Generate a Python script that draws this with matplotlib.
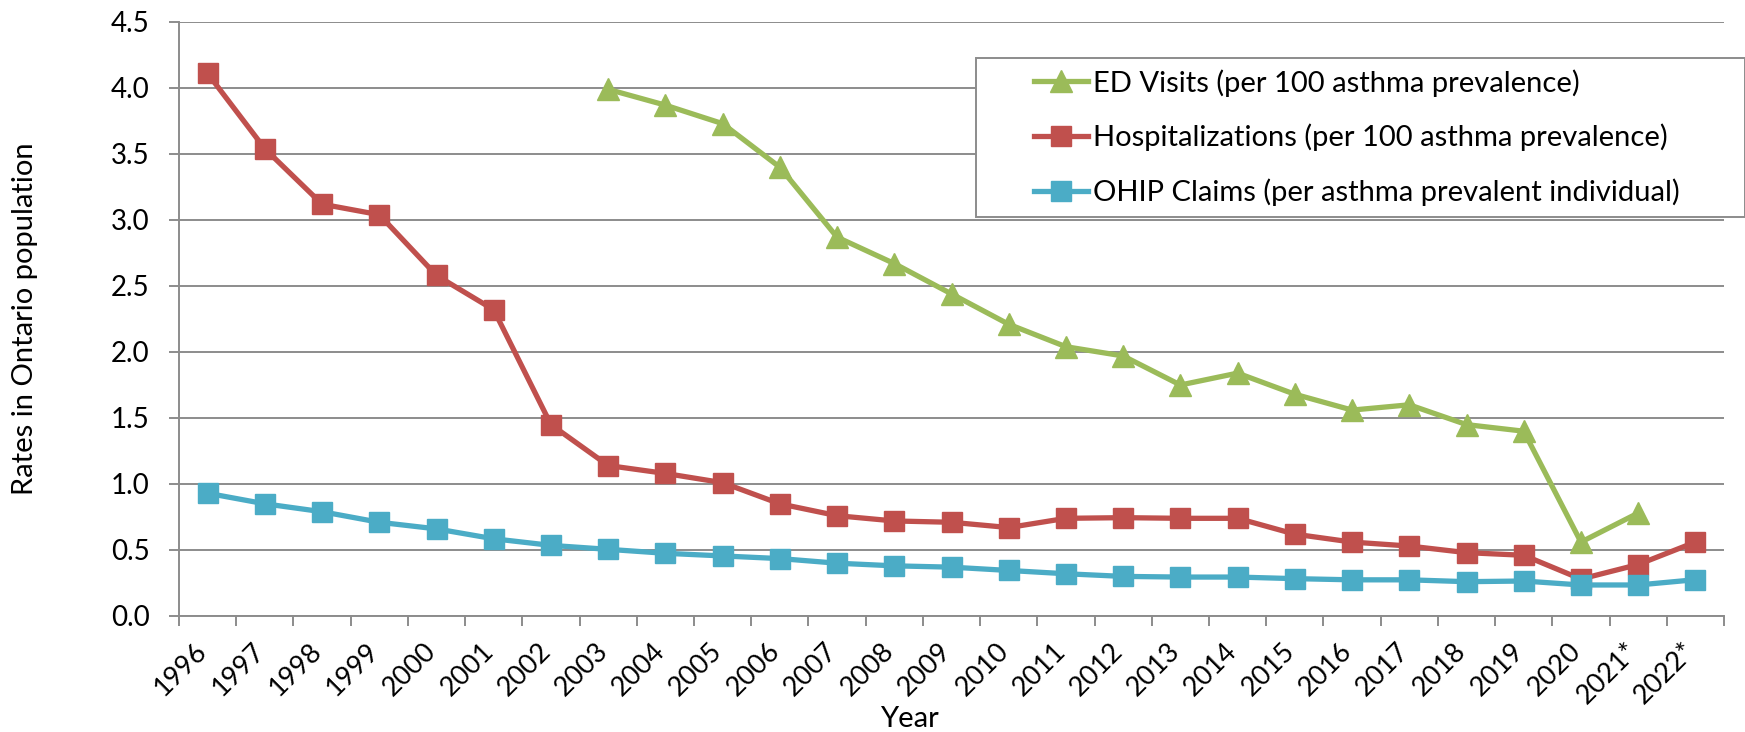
import numpy as np
import matplotlib.pyplot as plt
from matplotlib.patches import Rectangle

years = ["1996", "1997", "1998", "1999", "2000", "2001", "2002", "2003", "2004",
         "2005", "2006", "2007", "2008", "2009", "2010", "2011", "2012", "2013",
         "2014", "2015", "2016", "2017", "2018", "2019", "2020", "2021*", "2022*"]

# ED visits start in 2003 and stop at 2021*
ed_visits = [np.nan] * 7 + [3.99, 3.87, 3.73, 3.40, 2.87, 2.67, 2.44, 2.21, 2.04,
                            1.97, 1.75, 1.84, 1.68, 1.56, 1.60, 1.45, 1.40, 0.56,
                            0.78, np.nan]
hospitalizations = [4.11, 3.54, 3.12, 3.04, 2.58, 2.32, 1.45, 1.14, 1.08, 1.01,
                    0.85, 0.76, 0.72, 0.71, 0.67, 0.74, 0.745, 0.74, 0.74, 0.62,
                    0.56, 0.53, 0.48, 0.46, 0.28, 0.39, 0.56]
ohip_claims = [0.93, 0.85, 0.79, 0.71, 0.66, 0.585, 0.535, 0.505, 0.475, 0.455,
               0.435, 0.40, 0.38, 0.37, 0.345, 0.32, 0.30, 0.295, 0.295, 0.283,
               0.274, 0.274, 0.26, 0.265, 0.235, 0.235, 0.275]

labels = ["ED Visits (per 100 asthma prevalence)",
          "Hospitalizations (per 100 asthma prevalence)",
          "OHIP Claims (per asthma prevalent individual)"]

plt.rcParams['font.family'] = ['Lato', 'DejaVu Sans']

W, H = 1745, 732
fig = plt.figure(figsize=(W / 100, H / 100), dpi=100)
ax = fig.add_axes([179 / W, 1 - 616 / H, (1724 - 179) / W, (616 - 22) / H])

x = np.arange(len(years))
green, red, blue = "#9BBB59", "#C0504D", "#4BACC6"
l1, = ax.plot(x, ed_visits, color=green, lw=3.8, marker="^", ms=15.5, zorder=3)
l2, = ax.plot(x, hospitalizations, color=red, lw=3.8, marker="s", ms=14.5, zorder=3)
l3, = ax.plot(x, ohip_claims, color=blue, lw=3.8, marker="s", ms=14.5, zorder=3)

ax.set_xlim(-0.5, len(years) - 0.5)
ax.set_ylim(0, 4.5)
ax.set_yticks(np.arange(0, 4.51, 0.5))
ax.set_yticklabels([f"{v:.1f}" for v in np.arange(0, 4.51, 0.5)], fontsize=20)
ax.yaxis.grid(True, color="#8c8c8c", lw=1.4)
ax.set_axisbelow(True)

# category ticks between years, labels at centres
ax.set_xticks(np.arange(-0.5, len(years), 1.0))
ax.set_xticklabels([])
ax.set_xticks(x + 0.08, minor=True)
ax.set_xticklabels(years, minor=True, rotation=45, ha="right", fontsize=19.5)
ax.tick_params(axis="x", which="major", length=7, color="#8c8c8c", width=1.4)
ax.tick_params(axis="x", which="minor", length=0, pad=16)
ax.tick_params(axis="y", length=7, color="#8c8c8c", width=1.4, pad=14)

for s in ["top", "right"]:
    ax.spines[s].set_visible(False)
for s in ["left", "bottom"]:
    ax.spines[s].set_color("#8c8c8c")
    ax.spines[s].set_linewidth(1.4)

ax.set_ylabel("Rates in Ontario population", fontsize=21)
ax.yaxis.set_label_coords(-0.091, 0.5)
ax.set_xlabel("Year", fontsize=21)
ax.xaxis.set_label_coords(0.4725, -0.152)

# legend box reaching to the right edge of the figure
fig.patches.append(Rectangle((976 / W, 1 - 217 / H), (W - 976) / W, (217 - 58) / H,
                             transform=fig.transFigure, facecolor="white",
                             edgecolor="#8c8c8c", lw=1.4, zorder=5))
leg = fig.legend([l1, l2, l3], labels, loc="upper left",
                 bbox_to_anchor=(1034 / W, 1 - 69 / H), frameon=False,
                 fontsize=21, handlelength=1.86, handletextpad=0.17,
                 labelspacing=0.93, borderpad=0, borderaxespad=0)
leg.set_zorder(6)

fig.savefig("out.png", dpi=100)
